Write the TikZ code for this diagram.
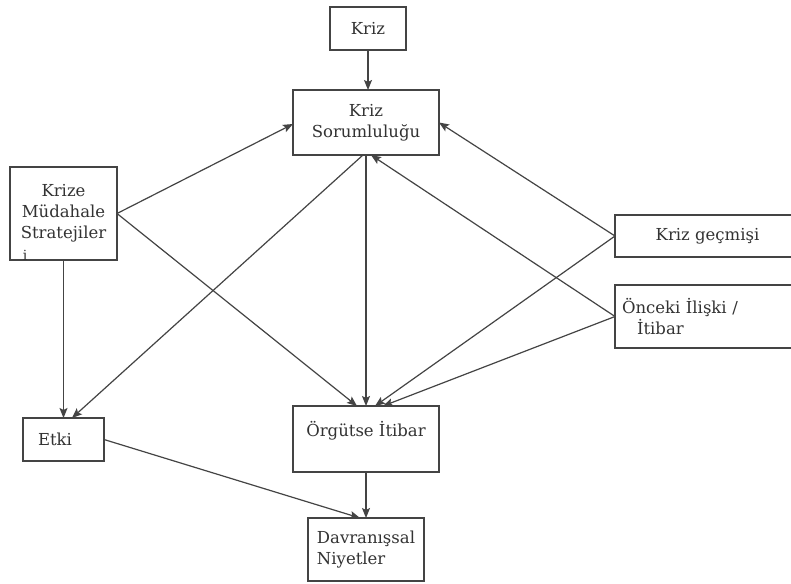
\documentclass[tikz,border=0pt]{standalone}
\usepackage{fontspec}
\setmainfont{DejaVu Serif}
\usetikzlibrary{arrows.meta}
\definecolor{ink}{HTML}{333333}
\definecolor{edge}{HTML}{444444}
\begin{document}
\begin{tikzpicture}[x=1pt,y=-1pt,
  box/.style={draw=edge, line width=1.1pt, fill=white, text=ink,
    inner sep=0pt, outer sep=0pt, align=center,
    font=\fontsize{16.5}{21}\selectfont},
  link/.style={draw=edge, line width=1.2pt,
    -{Stealth[length=10pt,width=8pt,inset=2pt]}}]
\clip (0,0) rectangle (791,583);
\fill[white] (0,0) rectangle (791,583);

% boxes
\node[box, minimum width=76, minimum height=43] (kriz) at (368,28.5) {Kriz};
\node[box, minimum width=146, minimum height=65] (sor) at (366,122.5) {Kriz\\Sorumluluğu};
\node[box, minimum width=107, minimum height=93] (mud) at (63.5,213.5) {Krize\\Müdahale\\Stratejiler};
\node[text=ink, inner sep=0pt, anchor=base, font=\fontsize{14}{16}\selectfont] (mudi) at (25,260) {i};
\node[box, minimum width=185, minimum height=42] (gec) at (707.5,236) {Kriz geçmişi};
\node[box, minimum width=185, minimum height=63, text width=171, inner xsep=7pt, align=left]
  (onc) at (707.5,316.5) {Önceki İlişki /\\\hspace*{15pt}İtibar};
\node[box, minimum width=81, minimum height=43, text width=51, inner xsep=15pt, align=left]
  (etki) at (63.5,439.5) {Etki};
\node[box, minimum width=146, minimum height=66] (org) at (366,439) {Örgütse İtibar\\\mbox{}};
\node[box, minimum width=116, minimum height=63, align=left] (dav) at (366,549.5) {Davranışsal\\Niyetler};

% connectors
\draw[link] (kriz.south) -- (kriz.south |- sor.north);
\draw[link] (mud.east) -- ([yshift=-1.5pt]sor.west);
\draw[link] (mud.east) -- ([xshift=-9pt]org.north);
\draw[link] (mud.south) -- (etki.north);
\draw[link] ([xshift=-3pt]sor.south) -- ([xshift=8.5pt]etki.north);
\draw[link] (sor.south) -- (org.north);
\draw[link] (gec.west) -- (sor.east);
\draw[link] (gec.west) -- ([xshift=9pt]org.north);
\draw[link] (onc.west) -- ([xshift=5pt]sor.south);
\draw[link] (onc.west) -- ([xshift=17pt]org.north);
\draw[link] (etki.east) -- ([xshift=-6pt]dav.north);
\draw[link] (org.south) -- (dav.north);
\end{tikzpicture}
\end{document}
